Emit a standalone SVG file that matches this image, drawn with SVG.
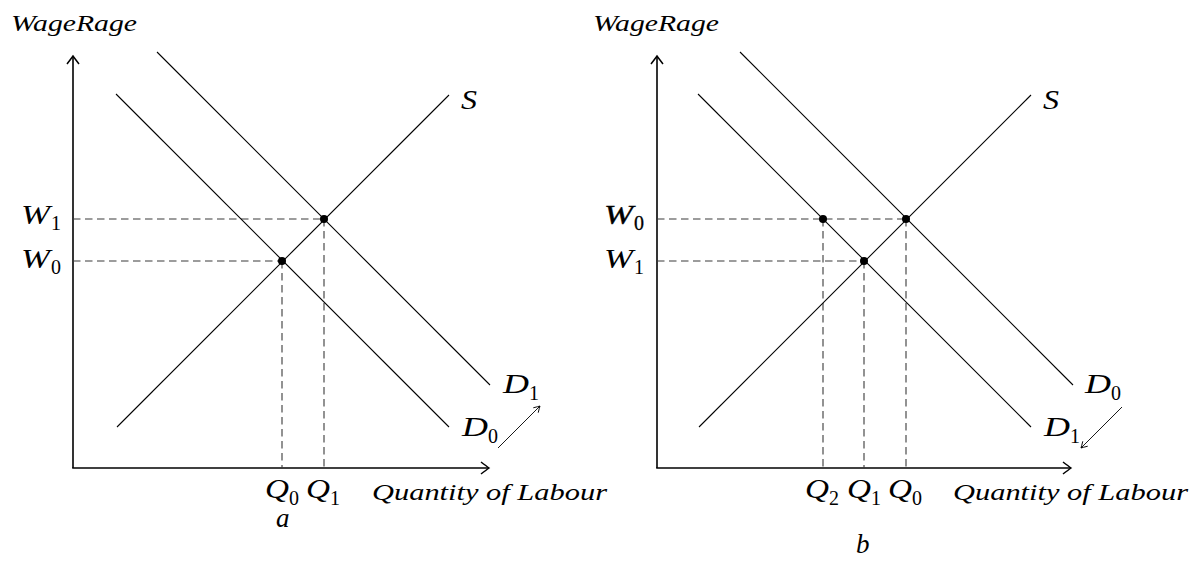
<svg xmlns="http://www.w3.org/2000/svg" width="1191" height="563" viewBox="0 0 1191 563">
  <style>
    .axis { stroke: #000; stroke-width: 1.6; fill: none; }
    .curve { stroke: #000; stroke-width: 1.1; fill: none; }
    .dash { stroke: #3a3a3a; stroke-width: 1.1; stroke-dasharray: 7.5 4.5; fill: none; }
    .small { stroke: #000; stroke-width: 0.9; fill: none; }
    .dot { fill: #000; }
  </style>
  <defs>
    <marker id="ah" viewBox="-9 -7 11 14" refX="0" refY="0" markerWidth="11" markerHeight="14" markerUnits="userSpaceOnUse" orient="auto">
      <path d="M -8 -6 Q -2.5 -1.8 0 0 Q -2.5 1.8 -8 6" fill="none" stroke="#000" stroke-width="1.5"/>
    </marker>
    <marker id="sah" viewBox="-7 -5 8 10" refX="0" refY="0" markerWidth="8" markerHeight="10" markerUnits="userSpaceOnUse" orient="auto">
      <path d="M -6 -3.5 Q -2 -1 0 0 Q -2 1 -6 3.5" fill="none" stroke="#000" stroke-width="0.9"/>
    </marker>
  </defs>

  <g id="panel-a">
    <g id="a-connectors">
      <line class="axis" x1="73" y1="468" x2="73" y2="56" marker-end="url(#ah)"/>
      <line class="axis" x1="72.2" y1="468" x2="489" y2="468" marker-end="url(#ah)"/>
      <line class="dash" x1="73" y1="219" x2="324" y2="219"/>
      <line class="dash" x1="73" y1="261" x2="282" y2="261"/>
      <line class="dash" x1="282" y1="261" x2="282" y2="468"/>
      <line class="dash" x1="324" y1="219" x2="324" y2="468"/>
      <line id="a-D0" class="curve" x1="116" y1="94" x2="449" y2="427"/>
      <line id="a-D1" class="curve" x1="157" y1="52" x2="490" y2="385"/>
      <line id="a-S" class="curve" x1="117" y1="427" x2="449" y2="95"/>
      <line class="small" x1="498" y1="448" x2="540" y2="406" marker-end="url(#sah)"/>
    </g>
    <g id="a-points">
      <circle class="dot" cx="282" cy="261" r="4"/>
      <circle class="dot" cx="324" cy="219" r="4"/>
    </g>
    <g id="a-labels" font-family="'Liberation Serif', 'DejaVu Serif', serif" fill="#000">
      <g font-style="italic" font-size="24">
        <text x="11" y="31" textLength="126" lengthAdjust="spacingAndGlyphs">WageRage</text>
        <text x="372" y="500" textLength="235" lengthAdjust="spacingAndGlyphs">Quantity of Labour</text>
        <text x="276" y="527" font-size="27">a</text>
      </g>
      <g font-style="italic" font-size="28">
        <text x="461" y="109" textLength="16" lengthAdjust="spacingAndGlyphs">S</text>
        <text x="503" y="393" textLength="26" lengthAdjust="spacingAndGlyphs">D</text>
        <text x="462" y="436" textLength="26" lengthAdjust="spacingAndGlyphs">D</text>
        <text x="21" y="224" textLength="29" lengthAdjust="spacingAndGlyphs">W</text>
        <text x="21" y="268" textLength="29" lengthAdjust="spacingAndGlyphs">W</text>
        <text x="265" y="498" textLength="24" lengthAdjust="spacingAndGlyphs">Q</text>
        <text x="306" y="498" textLength="24" lengthAdjust="spacingAndGlyphs">Q</text>
      </g>
      <g font-size="20">
        <text x="529" y="400">1</text>
        <text x="488" y="443">0</text>
        <text x="51" y="230">1</text>
        <text x="51" y="274">0</text>
        <text x="289" y="505">0</text>
        <text x="330" y="505">1</text>
      </g>
    </g>
  </g>

  <g id="panel-b">
    <g id="b-connectors">
      <line class="axis" x1="657" y1="468" x2="657" y2="56" marker-end="url(#ah)"/>
      <line class="axis" x1="656.2" y1="468" x2="1071" y2="468" marker-end="url(#ah)"/>
      <line class="dash" x1="657" y1="219" x2="906" y2="219"/>
      <line class="dash" x1="657" y1="261" x2="864" y2="261"/>
      <line class="dash" x1="823" y1="219" x2="823" y2="468"/>
      <line class="dash" x1="864" y1="261" x2="864" y2="468"/>
      <line class="dash" x1="906" y1="219" x2="906" y2="468"/>
      <line id="b-D0" class="curve" x1="740" y1="52" x2="1073" y2="385"/>
      <line id="b-D1" class="curve" x1="698" y1="94" x2="1031" y2="427"/>
      <line id="b-S" class="curve" x1="699" y1="427" x2="1031" y2="95"/>
      <line class="small" x1="1122" y1="407" x2="1081" y2="448" marker-end="url(#sah)"/>
    </g>
    <g id="b-points">
      <circle class="dot" cx="823" cy="219" r="4"/>
      <circle class="dot" cx="906" cy="219" r="4"/>
      <circle class="dot" cx="864" cy="261" r="4"/>
    </g>
    <g id="b-labels" font-family="'Liberation Serif', 'DejaVu Serif', serif" fill="#000">
      <g font-style="italic" font-size="24">
        <text x="593" y="31" textLength="126" lengthAdjust="spacingAndGlyphs">WageRage</text>
        <text x="953" y="500" textLength="235" lengthAdjust="spacingAndGlyphs">Quantity of Labour</text>
        <text x="856" y="553" font-size="27">b</text>
      </g>
      <g font-style="italic" font-size="28">
        <text x="1043" y="109" textLength="16" lengthAdjust="spacingAndGlyphs">S</text>
        <text x="1085" y="393" textLength="26" lengthAdjust="spacingAndGlyphs">D</text>
        <text x="1044" y="436" textLength="26" lengthAdjust="spacingAndGlyphs">D</text>
        <text x="604" y="224" textLength="29" lengthAdjust="spacingAndGlyphs" stroke="#000" stroke-width="0.4">W</text>
        <text x="604" y="268" textLength="29" lengthAdjust="spacingAndGlyphs">W</text>
        <text x="805" y="498" textLength="24" lengthAdjust="spacingAndGlyphs">Q</text>
        <text x="847" y="498" textLength="24" lengthAdjust="spacingAndGlyphs">Q</text>
        <text x="888" y="498" textLength="24" lengthAdjust="spacingAndGlyphs">Q</text>
      </g>
      <g font-size="20">
        <text x="1111" y="400">0</text>
        <text x="1070" y="443">1</text>
        <text x="634" y="230" stroke="#000" stroke-width="0.3">0</text>
        <text x="634" y="274">1</text>
        <text x="829" y="505">2</text>
        <text x="871" y="505">1</text>
        <text x="912" y="505">0</text>
      </g>
    </g>
  </g>
</svg>
